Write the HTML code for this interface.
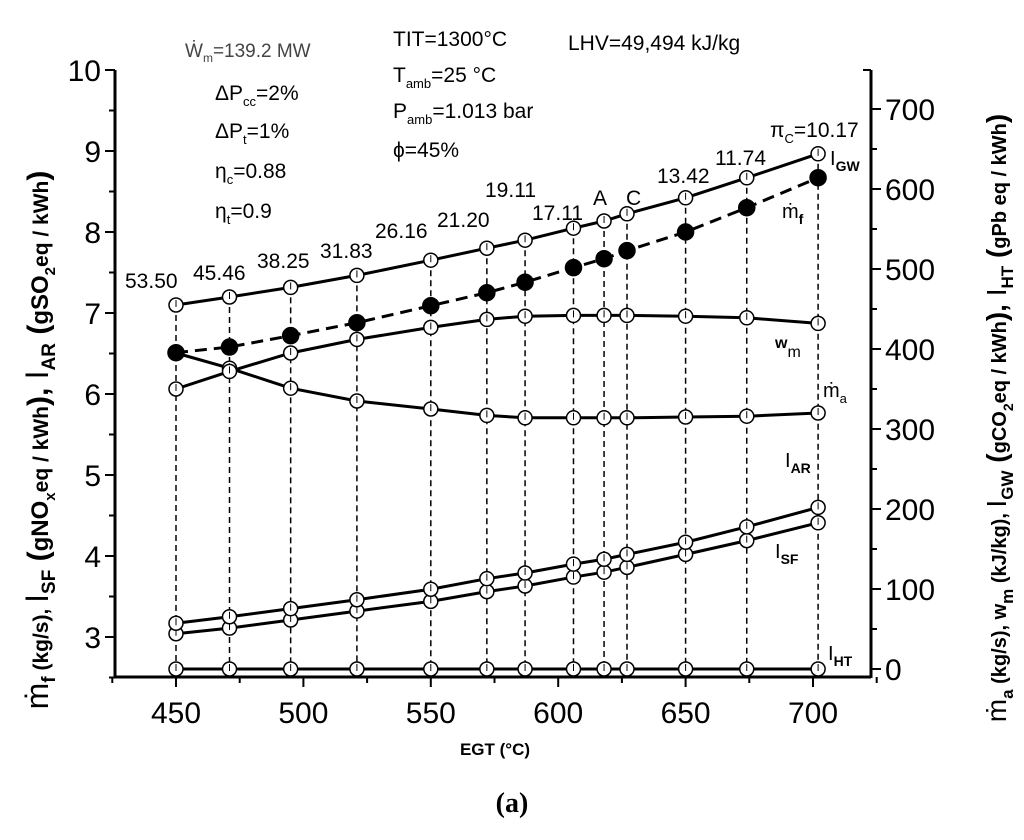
<!DOCTYPE html>
<html><head><meta charset="utf-8"><style>
html,body{margin:0;padding:0;background:#fff;width:1024px;height:840px;overflow:hidden}
svg{font-family:"Liberation Sans",sans-serif}
</style></head><body>
<svg id="chart" width="1024" height="840" viewBox="0 0 1024 840">
<g id="axes"></g><g id="marks"></g>
<g id="texts" fill="#000">
<text x="185" y="57" font-size="19" fill="#444">Ẇ<tspan font-size="12" dy="5">m</tspan><tspan dy="-5">=139.2 MW</tspan></text>
<g font-size="21">
<text x="215" y="100">ΔP<tspan font-size="13" dy="6">cc</tspan><tspan dy="-6">=2%</tspan></text>
<text x="215" y="138">ΔP<tspan font-size="13" dy="6">t</tspan><tspan dy="-6">=1%</tspan></text>
<text x="215" y="178">η<tspan font-size="13" dy="6">c</tspan><tspan dy="-6">=0.88</tspan></text>
<text x="215" y="218">η<tspan font-size="13" dy="6">t</tspan><tspan dy="-6">=0.9</tspan></text>
</g>
<g font-size="21">
<text x="393" y="46">TIT=1300°C</text>
<text x="393" y="82">T<tspan font-size="13" dy="6">amb</tspan><tspan dy="-6">=25 °C</tspan></text>
<text x="393" y="118">P<tspan font-size="13" dy="6">amb</tspan><tspan dy="-6">=1.013 bar</tspan></text>
<text x="393" y="157">ϕ=45%</text>
<text x="568" y="50">LHV=49,494 kJ/kg</text>
</g>
<g font-size="21">
<text x="125" y="288">53.50</text><text x="193" y="280">45.46</text><text x="257" y="268">38.25</text>
<text x="320" y="258">31.83</text><text x="375" y="238">26.16</text><text x="437" y="227">21.20</text>
<text x="485" y="197">19.11</text><text x="532" y="220">17.11</text><text x="593" y="205">A</text>
<text x="626" y="205">C</text><text x="657" y="183">13.42</text><text x="715" y="165">11.74</text>
<text x="770" y="137">π<tspan font-size="13" dy="6">C</tspan><tspan dy="-6">=10.17</tspan></text>
</g>
<g font-size="20">
<text x="830" y="165">I<tspan font-size="14" font-weight="bold" dy="6">GW</tspan></text>
<text x="782" y="218">ṁ<tspan font-size="14" font-weight="bold" dy="6">f</tspan></text>
<text x="775" y="348" font-weight="bold" font-size="16">w<tspan font-size="16" font-weight="normal" dy="9">m</tspan></text>
<text x="823" y="397">ṁ<tspan font-size="13" dy="6">a</tspan></text>
<text x="785" y="467">I<tspan font-size="14" font-weight="bold" dy="6">AR</tspan></text>
<text x="775" y="558">I<tspan font-size="14" font-weight="bold" dy="6">SF</tspan></text>
<text x="828" y="660">I<tspan font-size="14" font-weight="bold" dy="6">HT</tspan></text>
</g>
<text x="495" y="755" font-size="17" font-weight="bold" text-anchor="middle">EGT (°C)</text>
<text x="512" y="812" font-size="28" font-weight="bold" text-anchor="middle" font-family="Liberation Serif,serif">(a)</text>
<text transform="translate(48,440) rotate(-90)" font-size="24" font-weight="bold" text-anchor="middle"><tspan font-weight="normal" font-size="32">ṁ</tspan><tspan font-size="19" dy="7">f</tspan><tspan dy="-7" font-size="21"> (kg/s),  </tspan><tspan font-weight="normal" font-size="32">I</tspan><tspan font-size="19" dy="7">SF</tspan><tspan dy="-7" font-size="30"> (</tspan><tspan>gNO</tspan><tspan font-size="15" dy="7">x</tspan><tspan dy="-7" font-size="21">eq / kWh</tspan><tspan font-size="30">),  </tspan><tspan font-weight="normal" font-size="32">I</tspan><tspan font-size="19" dy="7">AR</tspan><tspan dy="-7" font-size="30"> (</tspan><tspan>gSO</tspan><tspan font-size="15" dy="7">2</tspan><tspan dy="-7" font-size="21">eq / kWh</tspan><tspan font-size="30">)</tspan></text>
<text transform="translate(1006,418) rotate(-90)" font-size="20" font-weight="bold" text-anchor="middle"><tspan font-weight="normal" font-size="28">ṁ</tspan><tspan font-size="17" dy="7">a</tspan><tspan dy="-7"> (kg/s),  w</tspan><tspan font-size="17" dy="7">m</tspan><tspan dy="-7"> (kJ/kg),  </tspan><tspan font-weight="normal" font-size="28">I</tspan><tspan font-size="17" dy="7">GW</tspan><tspan dy="-7" font-size="28"> (</tspan><tspan>gCO</tspan><tspan font-size="14" dy="7">2</tspan><tspan dy="-7">eq / kWh</tspan><tspan font-size="28">),  </tspan><tspan font-weight="normal" font-size="28">I</tspan><tspan font-size="17" dy="7">HT</tspan><tspan dy="-7" font-size="28"> (</tspan><tspan>gPb eq / kWh</tspan><tspan font-size="28">)</tspan></text>
</g>
</svg>
<script>
const egt = [450, 471, 495, 521, 550, 572, 587, 606, 618, 627, 650, 674, 702];
const mfValues = [6.51, 6.58, 6.72, 6.88, 7.09, 7.25, 7.38, 7.56, 7.67, 7.77, 8.0, 8.30, 8.67];
const isfUpper = [3.17, 3.25, 3.35, 3.46, 3.59, 3.72, 3.79, 3.90, 3.96, 4.02, 4.17, 4.36, 4.60];
const isfLower = [3.04, 3.11, 3.21, 3.32, 3.44, 3.56, 3.63, 3.74, 3.80, 3.86, 4.02, 4.19, 4.41];
const igwValues = [455, 465, 477, 492, 511, 526, 536, 551, 560, 569, 589, 614, 644];
const wmValues = [350, 372, 395, 412, 427, 437, 441, 442, 442, 442, 441, 439, 432];
const maValues = [395, 376, 351, 335, 325, 317, 314, 314, 314, 314, 315, 316, 320];
const ihtValues = [0, 0, 0, 0, 0, 0, 0, 0, 0, 0, 0, 0, 0];
const xTicks = [450, 500, 550, 600, 650, 700];
const leftTicks = [3, 4, 5, 6, 7, 8, 9, 10];
const rightTicks = [0, 100, 200, 300, 400, 500, 600, 700];

const X0 = 115, X1 = 871, Y0 = 70, Y1 = 677;
const xs = v => 176 + (v - 450) * 2.548;
const yl = v => 70 + (10 - v) * 81;
const yr = v => 669 - v * 0.8;
const NS = 'http://www.w3.org/2000/svg';
const axes = document.getElementById('axes'), marks = document.getElementById('marks');
function mk(tag, attrs, parent) { const e = document.createElementNS(NS, tag); for (const k in attrs) e.setAttribute(k, attrs[k]); parent.appendChild(e); return e; }

let e;
e = mk('line', {x1: X0, y1: Y0, x2: X0, y2: Y1 + 1, stroke: '#000', 'stroke-width': 3}, axes);
 
e = mk('line', {x1: X1, y1: Y0, x2: X1, y2: Y1 + 1, stroke: '#000', 'stroke-width': 3}, axes);
 
e = mk('line', {x1: X0, y1: Y1, x2: X1, y2: Y1, stroke: '#000', 'stroke-width': 3}, axes);
 
mk('line', {x1: X1, y1: Y0, x2: X1 - 8, y2: Y0, stroke: '#000', 'stroke-width': 2}, axes);

for (let v = 2.5; v <= 10.01; v += 0.5) {
  const major = Math.abs(v - Math.round(v)) < 0.01;
  mk('line', {x1: X0, y1: yl(v), x2: X0 - (major ? 10 : 6), y2: yl(v), stroke: '#000', 'stroke-width': 2}, axes);
}
leftTicks.forEach(v => {
  const t = mk('text', {x: X0 - 14, y: yl(v) + 11, 'font-size': 30, 'text-anchor': 'end'}, axes);
  t.textContent = v;
   
});
for (let v = 0; v <= 700; v += 50) {
  mk('line', {x1: X1, y1: yr(v), x2: X1 + (v % 100 === 0 ? 10 : 6), y2: yr(v), stroke: '#000', 'stroke-width': 2}, axes);
}
rightTicks.forEach(v => {
  const t = mk('text', {x: X1 + 14, y: yr(v) + 11, 'font-size': 30}, axes);
  t.textContent = v;
   
});
for (let v = 425; v <= 725; v += 25) {
  mk('line', {x1: xs(v), y1: Y1, x2: xs(v), y2: Y1 + (v % 50 === 0 ? 10 : 6), stroke: '#000', 'stroke-width': 2}, axes);
}
xTicks.forEach(v => {
  const t = mk('text', {x: xs(v), y: Y1 + 46, 'font-size': 30, 'text-anchor': 'middle'}, axes);
  t.textContent = v;
   
});

egt.forEach((v, i) => {
  const l = mk('line', {x1: xs(v), y1: yr(igwValues[i]), x2: xs(v), y2: Y1, stroke: '#000', 'stroke-width': 1.5, 'stroke-dasharray': '6,4'}, marks);
   
});

function series(vals, yf, name, opts) {
  const pts = egt.map((v, i) => xs(v) + ',' + yf(vals[i])).join(' ');
  const pl = mk('polyline', {points: pts, fill: 'none', stroke: '#000', 'stroke-width': 3, 'stroke-dasharray': opts.dash || 'none'}, marks);
   
  egt.forEach((v, i) => {
    const c = mk('circle', {cx: xs(v), cy: yf(vals[i]), r: opts.filled ? 8 : 7, fill: opts.filled ? '#000' : '#fff', stroke: '#000', 'stroke-width': 1.5}, marks);
     
    if (!opts.filled) mk('line', {x1: xs(v), y1: yf(vals[i]) - 5, x2: xs(v), y2: yf(vals[i]) + 2, stroke: '#000', 'stroke-width': 1}, marks);
  });
}
series(ihtValues, yr, 'iht', {});
series(isfLower, yl, 'isf-lower', {});
series(isfUpper, yl, 'isf-upper', {});
series(maValues, yr, 'ma', {});
series(wmValues, yr, 'wm', {});
series(igwValues, yr, 'igw', {});
series(mfValues, yl, 'mf', {filled: true, dash: '12,7'});
</script>
</body></html>
